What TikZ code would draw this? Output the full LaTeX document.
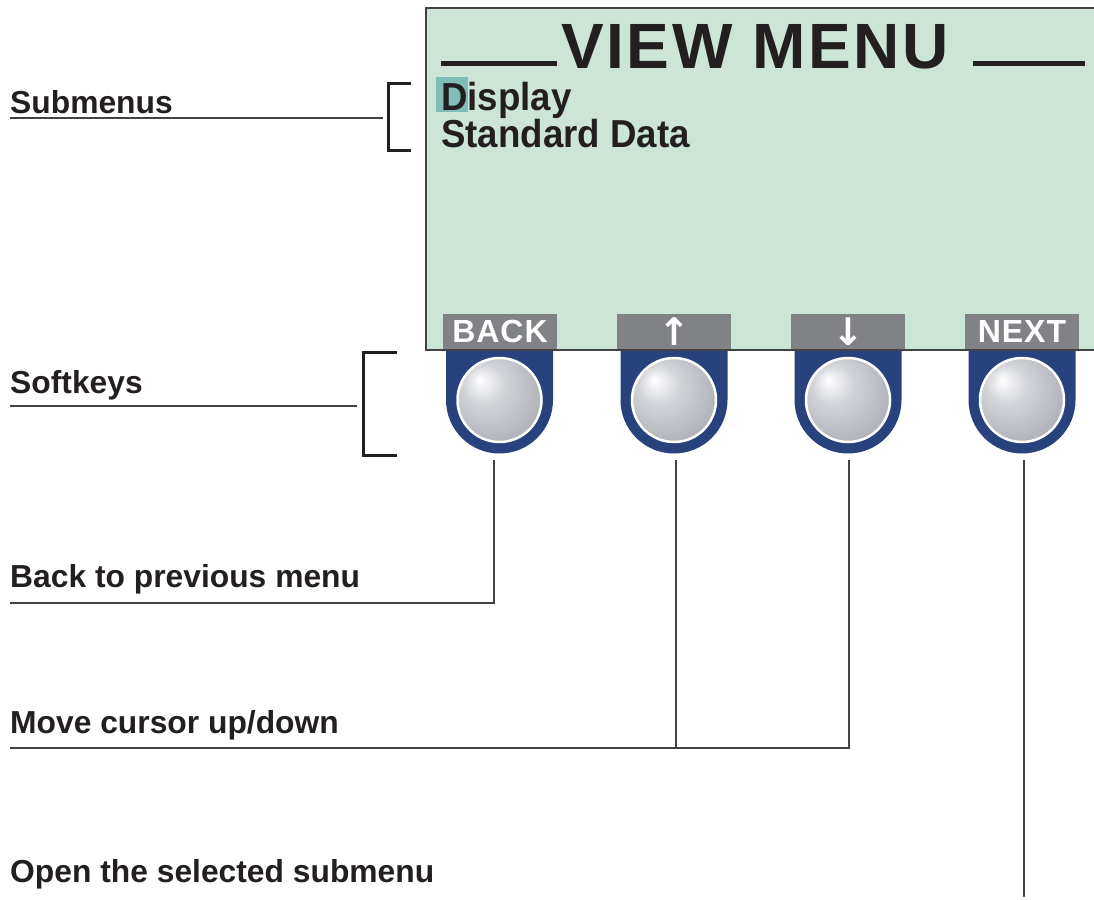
\documentclass[tikz,border=0pt]{standalone}
\usepackage{fontspec}
\setmainfont{Liberation Sans}
\newfontfamily\symfont{DejaVu Sans}
\newfontfamily\condfont[FakeStretch=0.94]{Liberation Sans}
\definecolor{lcdgreen}{HTML}{CCE5D6}
\definecolor{cursorteal}{HTML}{7FBDB6}
\definecolor{keygray}{HTML}{808285}
\definecolor{keyblue}{HTML}{27427C}
\definecolor{inkdark}{HTML}{231F20}
\definecolor{knobmid}{HTML}{D2D4D9}
\definecolor{knobedge}{HTML}{9EA1A9}
\pgfdeclareradialshading{knobshade}{\pgfpoint{-12bp}{12bp}}{%
  color(0bp)=(white); color(12bp)=(knobmid); color(40bp)=(knobedge); color(50bp)=(knobedge)}
\tikzset{
  callout/.style={anchor=base west, inner sep=0pt, text=inkdark,
    font=\fontsize{31.8}{36}\selectfont\bfseries},
  leader/.style={draw=inkdark!85, line width=1.2pt},
  bracket/.style={draw=inkdark, line width=3pt},
  softlabel/.style={fill=keygray, text=white, minimum width=114pt, minimum height=35pt,
    inner sep=0pt, font=\fontsize{32}{32}\selectfont\bfseries\addfontfeatures{LetterSpace=3}},
  knob/.style={circle, minimum size=84pt, inner sep=0pt, draw=white, line width=2.5pt,
    shading=knobshade},
  menuline/.style={anchor=base west, inner sep=0pt, text=inkdark,
    font=\fontsize{39}{44}\selectfont\condfont\bfseries},
}
\begin{document}
\begin{tikzpicture}[x=1pt, y=1pt]
\useasboundingbox (0,0) rectangle (1094,-899);

% LCD screen
\begin{scope}
\clip (0,0) rectangle (1094,-899);
\draw[fill=lcdgreen, draw=inkdark!85, line width=2.5pt] (426,-8) rectangle (1110,-350);
\end{scope}

% title with rules on both sides
\node[anchor=base, inner sep=0pt, text=inkdark,
  font=\fontsize{64}{64}\selectfont\bfseries\addfontfeatures{LetterSpace=4}] (title) at (755,-68) {VIEW MENU};
\fill[inkdark] (441,-61) rectangle (557,-65.5);
\fill[inkdark] (973,-61) rectangle (1085,-65.5);

% menu entries with cursor on the first letter
\fill[cursorteal] (436,-77) rectangle (468,-112);
\node[menuline] (display) at (441,-110) {Display};
\node[menuline] (stddata) at (441,-147) {Standard Data};

% softkey captions
\node[softlabel] (cap-back) at (500,-331.5) {BACK};
\node[softlabel] (cap-up)   at (674,-331.5) {\fontsize{38}{38}\selectfont\symfont\bfseries ↑};
\node[softlabel] (cap-down) at (848,-331.5) {\fontsize{38}{38}\selectfont\symfont\bfseries ↓};
\node[softlabel] (cap-next) at (1022,-331.5) {NEXT};

% softkeys
\foreach \x/\n in {499.5/back, 674/up, 848/down, 1022/next} {
  \fill[keyblue] (\x-53.5,-351) -- (\x-53.5,-400)
     arc[start angle=180, end angle=360, radius=53.5] -- (\x+53.5,-351) -- cycle;
  \node[knob] (key-\n) at (\x,-400) {};
}

% callout texts
\node[callout] (t-sub)  at (10,-113) {Submenus};
\node[callout] (t-soft) at (10,-393) {Softkeys};
\node[callout] (t-back) at (10,-587) {Back to previous menu};
\node[callout] (t-move) at (10,-733) {Move cursor up/down};
\node[callout] (t-open) at (10,-882) {Open the selected submenu};

% brackets
\coordinate (br-sub)  at (383,-118);
\coordinate (br-soft) at (357,-406);
\draw[bracket] (411,-83) -- (388,-83) -- (388,-150) -- (411,-150);
\draw[bracket] (397,-352) -- (363,-352) -- (363,-455) -- (397,-455);

% leader lines
\coordinate (u-sub)  at (10,-118);
\coordinate (u-soft) at (10,-406);
\coordinate (u-back) at (10,-603);
\coordinate (u-move) at (10,-748);
\coordinate (a-back) at (494,-460);
\coordinate (a-up)   at (676,-460);
\coordinate (a-down) at (849,-460);
\coordinate (a-next) at (1024,-460);
\coordinate (e-next) at (1024,-897);
\coordinate (j-up)   at (676,-748);

\draw[leader] (u-sub) -- (br-sub);
\draw[leader] (u-soft) -- (br-soft);
\draw[leader] (a-back) |- (u-back);
\draw[leader] (a-down) |- (u-move);
\draw[leader] (a-up) -- (j-up);
\draw[leader] (a-next) -- (e-next);
\end{tikzpicture}
\end{document}
